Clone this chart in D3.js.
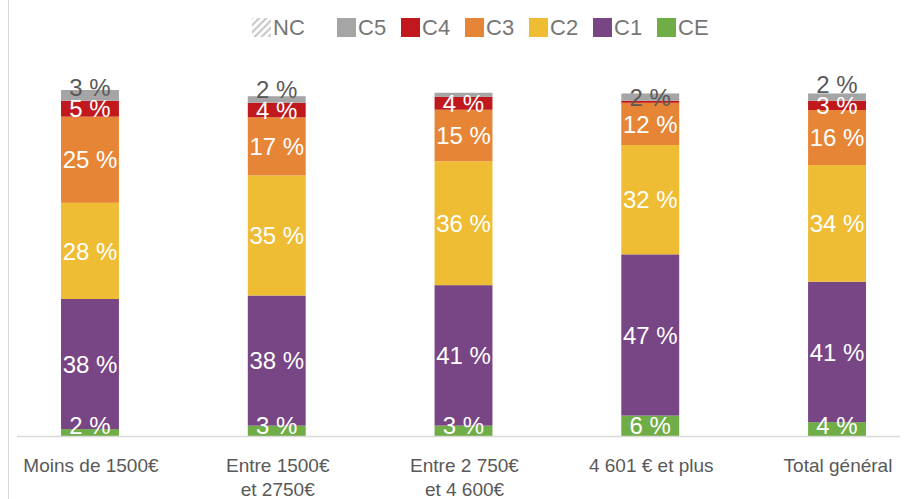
<!DOCTYPE html>
<html>
<head>
<meta charset="utf-8">
<script src="https://cdn.jsdelivr.net/npm/d3@7"></script>
<style>
  body { margin: 0; background: #fff; }
  svg { display: block; }
  text { font-family: "Liberation Sans", Arial, sans-serif; }
</style>
</head>
<body>
<svg id="chart" width="905" height="499"></svg>
<script>
// categories, one entry per bar (two lines where the label wraps)
var categories = ["Moins de 1500€", "Entre 1500€|et 2750€", "Entre 2 750€|et 4 600€", "4 601 € et plus", "Total général"];

// series in legend order
var legendKeys = ["NC", "C5", "C4", "C3", "C2", "C1", "CE"];
// stacking order, bottom to top
var stackKeys = ["CE", "C1", "C2", "C3", "C4", "C5", "NC"];

// values in %
var CE = [2.0, 3.0, 3.0, 5.9, 4.0];
var C1 = [37.6, 37.6, 40.6, 46.6, 40.6];
var C2 = [27.8, 34.7, 35.8, 31.6, 33.7];
var C3 = [24.9, 16.8, 14.9, 12.2, 15.9];
var C4 = [4.6, 4.2, 3.7, 0.6, 2.7];
var C5 = [3.1, 1.9, 1.2, 2.1, 2.1];
var NC = [0, 0, 0, 0, 0];

var colors = {
  NC: "url(#hatch)",
  C5: "#a5a5a5",
  C4: "#c0181c",
  C3: "#e78536",
  C2: "#eebd33",
  C1: "#784585",
  CE: "#70ad47"
};

var seriesVals = {CE: CE, C1: C1, C2: C2, C3: C3, C4: C4, C5: C5, NC: NC};

var table = categories.map(function(c, i) {
  var row = {cat: c};
  stackKeys.forEach(function(k) { row[k] = seriesVals[k][i]; });
  return row;
});

var width = 905, height = 499;
var svg = d3.select("#chart");

var defs = svg.append("defs");
var pat = defs.append("pattern")
  .attr("id", "hatch")
  .attr("patternUnits", "userSpaceOnUse")
  .attr("width", 5).attr("height", 5)
  .attr("patternTransform", "rotate(45)");
pat.append("rect").attr("width", 5).attr("height", 5).attr("fill", "#fff");
pat.append("rect").attr("width", 2.2).attr("height", 5).attr("fill", "#c9c9c9");

// chart border on the left
svg.append("line")
  .attr("x1", 8.5).attr("x2", 8.5)
  .attr("y1", 0).attr("y2", height)
  .attr("stroke", "#d9d9d9").attr("stroke-width", 1);

var x = d3.scaleBand()
  .domain(categories)
  .range([-3.4, 930.4])
  .paddingInner(0.69)
  .paddingOuter(0.345);

var y = d3.scaleLinear()
  .domain([0, 100])
  .range([436, 90]);

var stacked = d3.stack().keys(stackKeys)(table);

var layers = svg.append("g").selectAll("g")
  .data(stacked)
  .enter().append("g")
  .attr("fill", function(d) { return colors[d.key]; });

layers.selectAll("rect")
  .data(function(d) { return d; })
  .enter().append("rect")
  .attr("x", function(d) { return x(d.data.cat); })
  .attr("width", x.bandwidth())
  .attr("y", function(d) { return y(d[1]); })
  .attr("height", function(d) { return y(d[0]) - y(d[1]); });

// x axis baseline
svg.append("line")
  .attr("x1", 17).attr("x2", 900)
  .attr("y1", 436.5).attr("y2", 436.5)
  .attr("stroke", "#d9d9d9").attr("stroke-width", 1.5);

// data labels: kept above the baseline, pushed up when they would overlap the label below
var gap = 21;
var labelG = svg.append("g");
categories.forEach(function(c, i) {
  var labs = [];
  stacked.forEach(function(s) {
    var v = s[i][1] - s[i][0];
    if (v >= 1.5) {
      var ly = Math.min(y((s[i][0] + s[i][1]) / 2), y(0) - 11);
      labs.push({key: s.key, v: v, y: ly});
    }
  });
  for (var j = 1; j < labs.length; j++) {
    if (labs[j].y > labs[j - 1].y - gap) labs[j].y = labs[j - 1].y - gap;
  }
  labs.forEach(function(l) {
    labelG.append("text")
      .attr("x", x(c) + x.bandwidth() / 2)
      .attr("y", l.y)
      .attr("dy", "0.36em")
      .attr("text-anchor", "middle")
      .attr("font-size", 24)
      .attr("fill", l.key == "C5" ? "#595959" : "#fff")
      .text(Math.round(l.v) + " %");
  });
});

// category labels
var xAxis = svg.append("g");
categories.forEach(function(c) {
  var lines = c.split("|");
  var t = xAxis.append("text")
    .attr("text-anchor", "middle")
    .attr("font-size", 19)
    .attr("fill", "#595959");
  lines.forEach(function(line, k) {
    t.append("tspan")
      .attr("x", x(c) + x.bandwidth() / 2 + 1)
      .attr("y", 472 + k * 24)
      .text(line);
  });
});

// legend
var legendW = {NC: 85};
var lx = 252;
var legend = svg.append("g");
legendKeys.forEach(function(k) {
  legend.append("rect")
    .attr("x", lx).attr("y", 18)
    .attr("width", 19).attr("height", 19)
    .attr("fill", colors[k]);
  legend.append("text")
    .attr("x", lx + 21).attr("y", 35)
    .attr("font-size", 22)
    .attr("fill", "#767676")
    .text(k);
  lx += legendW[k] || 64;
});
</script>
</body>
</html>
